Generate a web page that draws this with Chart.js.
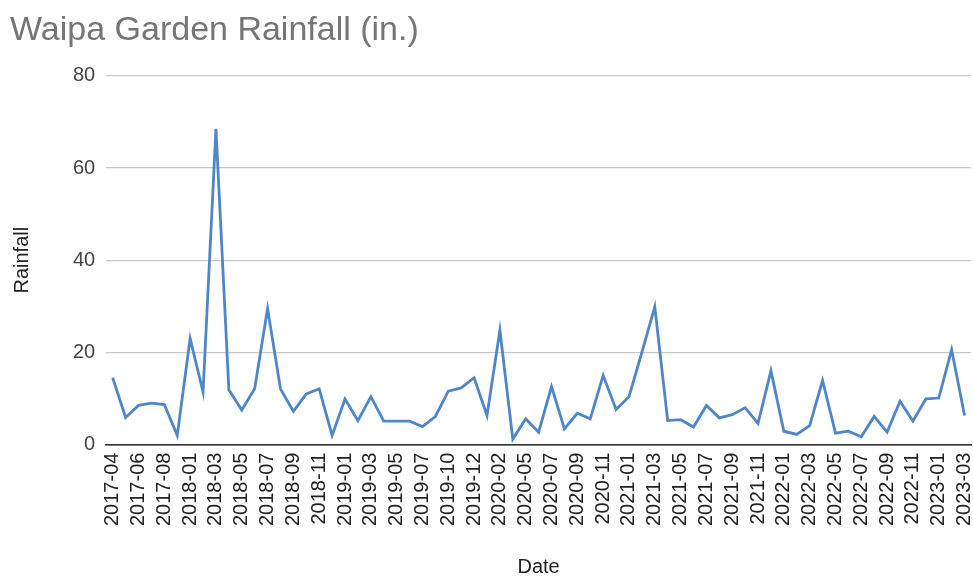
<!DOCTYPE html>
<html>
<head>
<meta charset="utf-8">
<script src="https://cdn.jsdelivr.net/npm/chart.js@4/dist/chart.umd.min.js"></script>
<style>
  html, body { margin: 0; padding: 0; background: #fff; }
  #wrap { width: 973px; height: 579px; position: relative; }
</style>
</head>
<body>
<div id="wrap"><canvas id="rainChart"></canvas></div>
<script>
// months in the sheet (only every other one gets a label on the axis)
const dates = [
  '2017-04', '2017-05', '2017-06', '2017-07', '2017-08', '2017-12', '2018-01', '2018-02',
  '2018-03', '2018-04', '2018-05', '2018-06', '2018-07', '2018-08', '2018-09', '2018-10',
  '2018-11', '2018-12', '2019-01', '2019-02', '2019-03', '2019-04', '2019-05', '2019-06',
  '2019-07', '2019-08', '2019-10', '2019-11', '2019-12', '2020-01', '2020-02', '2020-03',
  '2020-05', '2020-06', '2020-07', '2020-08', '2020-09', '2020-10', '2020-11', '2020-12',
  '2021-01', '2021-02', '2021-03', '2021-04', '2021-05', '2021-06', '2021-07', '2021-08',
  '2021-09', '2021-10', '2021-11', '2021-12', '2022-01', '2022-02', '2022-03', '2022-04',
  '2022-05', '2022-06', '2022-07', '2022-08', '2022-09', '2022-10', '2022-11', '2022-12',
  '2023-01', '2023-02', '2023-03'
];

const rainfall = [
  14.5, 5.9, 8.5, 9.0, 8.7, 2.0, 23.0, 11.4,
  68.5, 11.9, 7.5, 12.1, 29.5, 12.1, 7.2, 11.0,
  12.1, 2.0, 9.9, 5.2, 10.4, 5.1, 5.1, 5.1,
  3.9, 6.1, 11.6, 12.3, 14.5, 6.3, 24.8, 1.2,
  5.6, 2.7, 12.6, 3.4, 6.8, 5.6, 15.0, 7.6,
  10.4, 20.0, 29.9, 5.2, 5.4, 3.8, 8.5, 5.8,
  6.5, 8.0, 4.6, 16.0, 2.9, 2.2, 4.1, 13.9,
  2.5, 2.9, 1.7, 6.1, 2.7, 9.4, 5.1, 9.9,
  10.1, 20.6, 6.3
];

const yTicks = [0, 20, 40, 60, 80];

const font = 'Liberation Sans, Arial, sans-serif';
const lineColor = '#4e86c8';

const ctx = document.getElementById('rainChart').getContext('2d');

const chart = new Chart(ctx, {
  type: 'line',
  data: {
    labels: dates,
    datasets: [{
      label: 'Rainfall',
      data: rainfall,
      borderColor: lineColor,
      backgroundColor: lineColor,
      borderWidth: 2.8,
      tension: 0,
      fill: false,
      pointRadius: 0
    }]
  },
  options: {
    responsive: true,
    maintainAspectRatio: false,
    animation: false,
    layout: {
      padding: { left: 10, right: 2, top: 0, bottom: 0 }
    },
    plugins: {
      legend: { display: false },
      tooltip: { enabled: false },
      title: {
        display: true,
        text: 'Waipa Garden Rainfall (in.)',
        align: 'start',
        color: '#757575',
        font: { family: font, size: 34, weight: 'normal' },
        padding: { top: 10, bottom: 25 }
      }
    },
    scales: {
      x: {
        offset: true,
        grid: { display: false, drawTicks: false },
        border: { display: true, color: '#333', width: 1.5 },
        // rotated labels fit inside the offset, drop the extra side padding
        afterFit: s => { s.paddingLeft = 0; s.paddingRight = 0; },
        ticks: {
          autoSkip: false,
          minRotation: 90,
          maxRotation: 90,
          padding: 8,
          color: '#222',
          font: { family: font, size: 20 },
          callback: function (val, i) {
            return i % 2 === 0 ? this.getLabelForValue(val) : '';
          }
        },
        title: {
          display: true,
          text: 'Date',
          color: '#222',
          font: { family: font, size: 20 },
          padding: { top: 21, bottom: 0 }
        }
      },
      y: {
        min: yTicks[0],
        max: yTicks[yTicks.length - 1],
        grid: {
          drawTicks: false,
          color: c => (c.tick && c.tick.value === 0 ? '#333' : '#c8c8c8'),
          lineWidth: 1.2
        },
        border: { display: false },
        afterBuildTicks: axis => {
          axis.ticks = yTicks.map(v => ({ value: v }));
        },
        ticks: {
          padding: 11,
          color: '#444',
          font: { family: font, size: 20 }
        },
        title: {
          display: true,
          text: 'Rainfall',
          color: '#222',
          font: { family: font, size: 20 },
          padding: { top: 0, bottom: 28 }
        }
      }
    }
  }
});
</script>
</body>
</html>
